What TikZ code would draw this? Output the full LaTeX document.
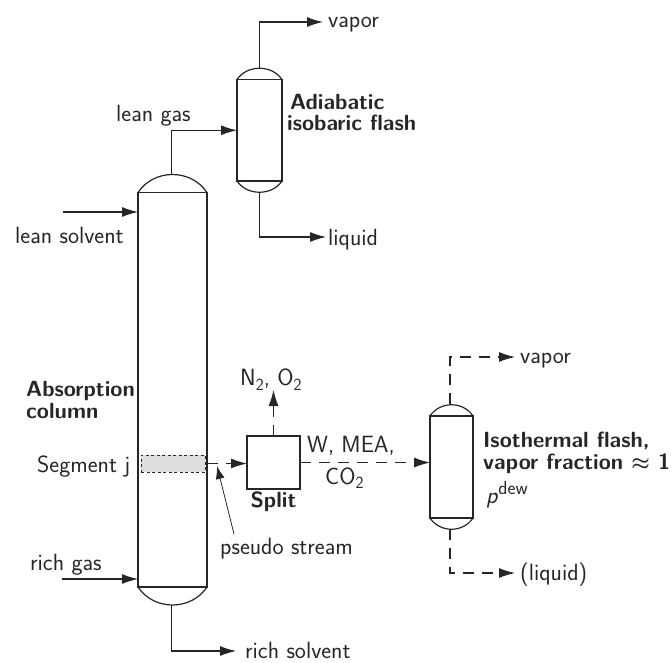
\documentclass[tikz,border=0pt]{standalone}
\usepackage{fontspec}
\usepackage{amsmath}
\usetikzlibrary{arrows.meta}
\definecolor{ink}{HTML}{262626}
\newcommand{\subtwo}{\raisebox{-4.5pt}{\fontsize{17}{17}\selectfont 2}}
\tikzset{
  vessel/.style={draw=ink,line width=1.2pt,minimum width=#1,inner sep=0pt,outer sep=0pt},
  dome/.style={draw=ink,line width=1.2pt},
  flow/.style={draw=ink,line width=1.1pt,-{Latex[length=16pt,width=10pt]}},
  dflow/.style={flow,dash pattern=on 11pt off 8pt},
  lbl/.style={text=ink,inner sep=0pt,anchor=base west,font=\fontsize{23.5}{26}\selectfont\sffamily},
  blbl/.style={lbl,align=left,font=\fontsize{22}{21.5}\selectfont\sffamily\bfseries},
}
\begin{document}
\begin{tikzpicture}[x=1pt,y=-1pt]
\useasboundingbox (0,0) rectangle (672,662);
% vessels
\node[vessel=69pt,minimum height=394.5pt] (col) at (172.5,389.75) {};
\node[vessel=45pt,minimum height=101.5pt] (fa) at (259.5,130.25) {};
\node[vessel=43pt,minimum height=102pt] (fb) at (451.5,467) {};
\node[vessel=53pt,minimum height=53pt] (split) at (273.5,462.5) {};
% domes
\draw[dome] (col.north west) .. controls +(16,-24) and +(-16,-24) .. (col.north east);
\draw[dome] (col.south west) .. controls +(16,24) and +(-16,24) .. (col.south east);
\draw[dome] (fa.north west) .. controls +(10,-15) and +(-10,-15) .. (fa.north east);
\draw[dome] (fa.south west) .. controls +(10,15) and +(-10,15) .. (fa.south east);
\draw[dome] (fb.north west) .. controls +(10,-15) and +(-10,-15) .. (fb.north east);
\draw[dome] (fb.south west) .. controls +(10,15) and +(-10,15) .. (fb.south east);
\coordinate (coltop) at (171.7,174.5);
\coordinate (colbot) at (171.7,605);
\coordinate (fatop) at (259.5,68);
\coordinate (fabot) at (259.5,192);
\coordinate (fbtop) at (450,404);
\coordinate (fbbot) at (450,529);
% segment
\node[draw=ink,fill=black!13,dash pattern=on 3pt off 2.5pt,line width=0.8pt,minimum width=64pt,minimum height=17pt,inner sep=0pt] (seg) at (173,463.5) {};
% labels
\node[lbl] (lv1) at (328,27) {vapor};
\node[lbl] (ll1) at (328,245) {liquid};
\node[lbl] (lg) at (116,121) {lean gas};
\node[lbl] (ls) at (15,243) {lean solvent};
\node[blbl] (tadi) at (287,130.5) {\hspace*{3pt}Adiabatic\\isobaric flash};
\node[blbl] (tabs) at (26,418) {Absorption\\column};
\node[lbl] (tseg) at (37,472) {Segment j};
\node[lbl] (trg) at (30,570.5) {rich gas};
\node[lbl] (trs) at (245,658) {rich solvent};
\node[lbl] (tps) at (220,554.5) {pseudo stream};
\node[lbl] (tno) at (240,385.5) {N\subtwo, O\subtwo};
\node[blbl,anchor=base] (tsp) at (273.5,507.5) {Split};
\node[lbl] (tw) at (307,452) {W, MEA,};
\node[lbl] (tco) at (325,484) {CO\subtwo};
\node[lbl] (lv2) at (520,363) {vapor};
\node[lbl] (ll2) at (520,580) {(liquid)};
\node[blbl] (tiso) at (483,469) {Isothermal flash,\\vapor fraction $\boldsymbol{\approx}$ 1};
\node[lbl] (tp) at (486,503) {\textit{p}\raisebox{9pt}{\fontsize{19}{19}\selectfont dew}};
% free ends
\coordinate (inls) at (63,212);
\coordinate (inrg) at (62,579);
\coordinate (psfrom) at (234,534);
\coordinate (psto) at (217,466);
\coordinate (endl1) at (326,237);
\coordinate (endrs) at (236,651);
\coordinate (endv1) at (323,22);
\coordinate (endv2) at (515,357);
\coordinate (endl2) at (515,573);
\coordinate (endno) at (273.5,390);
% connectors
\draw[flow] (coltop) |- (fa.west);
\draw[flow] (fatop) |- (endv1);
\draw[flow] (fabot) |- (endl1);
\draw[flow] (inls) -- (inls -| col.west);
\draw[flow] (inrg) -- (inrg -| col.west);
\draw[flow] (colbot) |- (endrs);
\draw[flow,line width=0.8pt,-{Latex[length=13pt,width=9pt]}] (psfrom) -- (psto);
\draw[dflow] (col.east |- seg) -- (seg -| split.west);
\draw[dflow] (split.north) -- (endno);
\draw[dflow] (split.east) -- (split.east -| fb.west);
\draw[dflow] (fbtop) |- (endv2);
\draw[dflow] (fbbot) |- (endl2);
\end{tikzpicture}
\end{document}
